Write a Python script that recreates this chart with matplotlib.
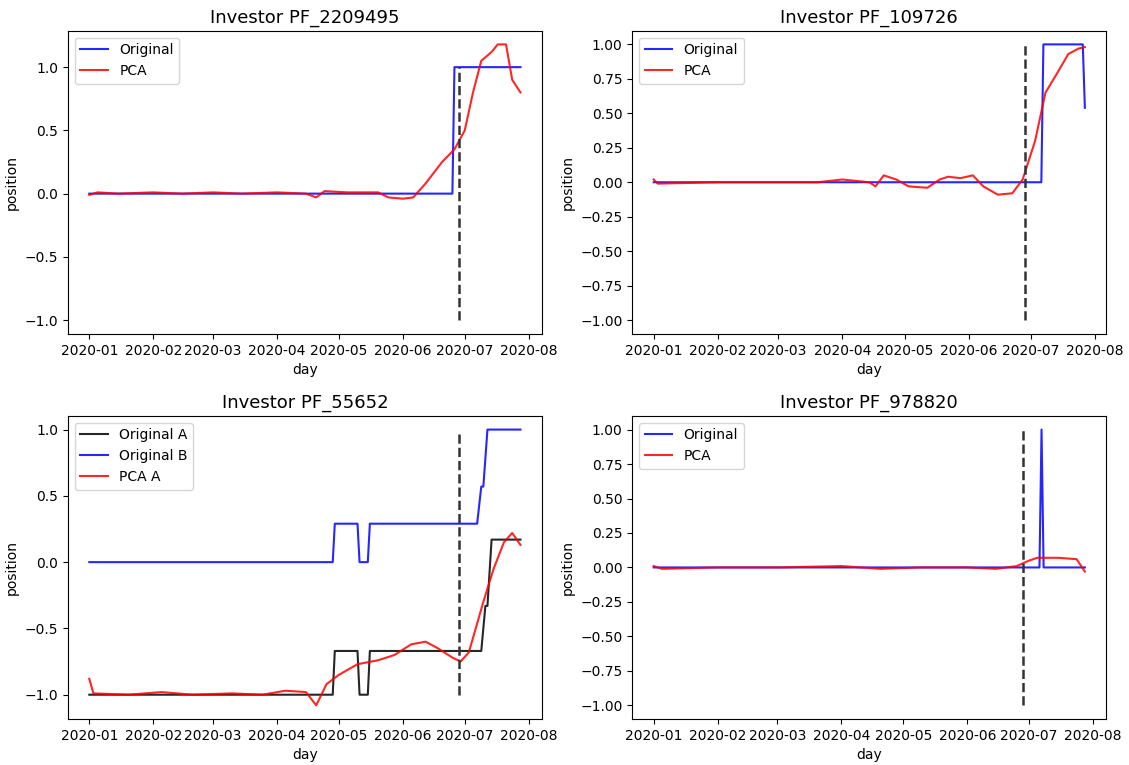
import matplotlib
matplotlib.use("Agg")
import matplotlib.pyplot as plt
import pandas as pd

# ---- data ----
split_day = "2020-06-28"

p1_orig_days = ["2020-01-01", "2020-06-25", "2020-06-26", "2020-07-28"]
p1_orig_vals = [0, 0, 1, 1]
p1_pca_days = ["2020-01-01", "2020-01-05", "2020-01-15", "2020-02-01", "2020-02-15", "2020-03-01",
               "2020-03-15", "2020-04-01", "2020-04-15", "2020-04-20", "2020-04-24", "2020-05-05",
               "2020-05-20", "2020-05-25", "2020-06-01", "2020-06-06", "2020-06-12", "2020-06-20",
               "2020-06-26", "2020-07-01", "2020-07-05", "2020-07-09", "2020-07-14", "2020-07-17",
               "2020-07-21", "2020-07-24", "2020-07-28"]
p1_pca_vals = [-0.01, 0.01, 0.0, 0.01, 0.0, 0.01, 0.0, 0.01, 0.0, -0.03, 0.02, 0.01, 0.01, -0.03,
               -0.04, -0.03, 0.08, 0.25, 0.35, 0.5, 0.8, 1.05, 1.12, 1.18, 1.18, 0.9, 0.8]

p2_orig_days = ["2020-01-01", "2020-07-06", "2020-07-07", "2020-07-26", "2020-07-27"]
p2_orig_vals = [0, 0, 1, 1, 0.54]
p2_pca_days = ["2020-01-01", "2020-01-03", "2020-02-01", "2020-03-01", "2020-03-20", "2020-04-01",
               "2020-04-14", "2020-04-17", "2020-04-21", "2020-04-27", "2020-05-03", "2020-05-12",
               "2020-05-18", "2020-05-22", "2020-05-28", "2020-06-03", "2020-06-08", "2020-06-15",
               "2020-06-22", "2020-06-27", "2020-07-03", "2020-07-08", "2020-07-14", "2020-07-19",
               "2020-07-24", "2020-07-27"]
p2_pca_vals = [0.02, -0.01, 0.0, 0.0, 0.0, 0.02, 0.0, -0.03, 0.05, 0.02, -0.03, -0.04, 0.02, 0.04,
               0.03, 0.05, -0.03, -0.09, -0.08, 0.02, 0.3, 0.65, 0.8, 0.93, 0.97, 0.98]

p3_a_days = ["2020-01-01", "2020-04-28", "2020-04-29", "2020-05-10", "2020-05-11", "2020-05-15",
             "2020-05-16", "2020-07-09", "2020-07-11", "2020-07-12", "2020-07-14", "2020-07-28"]
p3_a_vals = [-1, -1, -0.67, -0.67, -1, -1, -0.67, -0.67, -0.33, -0.33, 0.17, 0.17]
p3_b_days = ["2020-01-01", "2020-04-28", "2020-04-29", "2020-05-10", "2020-05-11", "2020-05-15",
             "2020-05-16", "2020-07-07", "2020-07-09", "2020-07-10", "2020-07-12", "2020-07-28"]
p3_b_vals = [0, 0, 0.29, 0.29, 0, 0, 0.29, 0.29, 0.57, 0.57, 1, 1]
p3_pca_days = ["2020-01-01", "2020-01-03", "2020-01-20", "2020-02-05", "2020-02-20", "2020-03-10",
               "2020-03-25", "2020-04-05", "2020-04-15", "2020-04-20", "2020-04-25", "2020-05-01",
               "2020-05-10", "2020-05-20", "2020-05-28", "2020-06-05", "2020-06-12", "2020-06-18",
               "2020-06-25", "2020-06-29", "2020-07-03", "2020-07-10", "2020-07-15", "2020-07-20",
               "2020-07-24", "2020-07-28"]
p3_pca_vals = [-0.88, -0.99, -1.0, -0.98, -1.0, -0.99, -1.0, -0.97, -0.98, -1.08, -0.92, -0.85,
               -0.77, -0.74, -0.7, -0.62, -0.6, -0.65, -0.72, -0.75, -0.68, -0.3, -0.05, 0.15,
               0.22, 0.13]

p4_orig_days = ["2020-01-01", "2020-07-06", "2020-07-07", "2020-07-08", "2020-07-28"]
p4_orig_vals = [0, 0, 1, 0, 0]
p4_pca_days = ["2020-01-01", "2020-01-05", "2020-02-01", "2020-03-01", "2020-04-01", "2020-04-20",
               "2020-05-10", "2020-06-01", "2020-06-15", "2020-06-25", "2020-07-01", "2020-07-05",
               "2020-07-15", "2020-07-24", "2020-07-28"]
p4_pca_vals = [0.01, -0.01, 0.0, 0.0, 0.01, -0.01, 0.0, 0.0, -0.01, 0.01, 0.05, 0.07, 0.07, 0.06, -0.03]


def d(xs):
    return pd.to_datetime(xs)


fig, axes = plt.subplots(2, 2, figsize=(11.29, 7.65), dpi=100)
(ax1, ax2), (ax3, ax4) = axes
fig.subplots_adjust(left=0.06, right=0.98, top=0.96, bottom=0.06, wspace=0.19, hspace=0.27)

ax1.plot(d(p1_orig_days), p1_orig_vals, color="blue", alpha=0.85, label="Original")
ax1.plot(d(p1_pca_days), p1_pca_vals, color="red", alpha=0.85, label="PCA")
ax1.set_title("Investor PF_2209495", fontsize=13)

ax2.plot(d(p2_orig_days), p2_orig_vals, color="blue", alpha=0.85, label="Original")
ax2.plot(d(p2_pca_days), p2_pca_vals, color="red", alpha=0.85, label="PCA")
ax2.set_title("Investor PF_109726", fontsize=13)

ax3.plot(d(p3_a_days), p3_a_vals, color="black", alpha=0.85, label="Original A")
ax3.plot(d(p3_b_days), p3_b_vals, color="blue", alpha=0.85, label="Original B")
ax3.plot(d(p3_pca_days), p3_pca_vals, color="red", alpha=0.85, label="PCA A")
ax3.set_title("Investor PF_55652", fontsize=13)

ax4.plot(d(p4_orig_days), p4_orig_vals, color="blue", alpha=0.85, label="Original")
ax4.plot(d(p4_pca_days), p4_pca_vals, color="red", alpha=0.85, label="PCA")
ax4.set_title("Investor PF_978820", fontsize=13)

for ax in axes.flat:
    ax.vlines(pd.to_datetime(split_day), -1, 1, colors="#333333", linestyles="--", linewidth=1.8)
    ax.set_xlabel("day")
    ax.set_ylabel("position")
    ax.legend(loc="upper left")
    ax.tick_params(labelsize=10)

fig.savefig("out.png", dpi=100)
